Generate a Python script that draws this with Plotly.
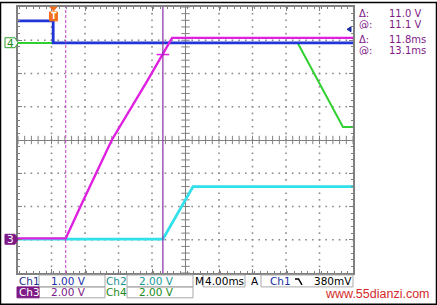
import plotly.graph_objects as go

# ---------------- data (time in ms from trigger, vertical position in screen divisions) -------------
T_START, T_END = -4.2, 35.8          # 10 div x 4.00 ms
ch1_t = [-4.2, 0.0, 0.0, 35.8]
ch1_y = [3.58, 3.58, 2.92, 2.92]
ch2_t = [-4.2, 13.1, 16.7, 35.8]
ch2_y = [-2.98, -2.98, -1.40, -1.40]
ch3_t = [-4.2, 1.5, 3.2, 7.0, 11.2, 13.1, 14.2, 35.8]
ch3_y = [-2.96, -2.96, -2.03, 0.0, 1.76, 2.57, 3.07, 3.07]
ch4_t = [-4.2, 29.2, 34.6, 35.8]
ch4_y = [2.92, 2.92, 0.39, 0.39]

cursor_dashed_t = 1.5
cursor_solid_t = 13.1
cross_t, cross_y = 13.1, 2.57

readout_labels = ["Δ:", "@:", "Δ:", "@:"]
readout_values = ["11.0 V", "11.1 V", "11.8ms", "13.1ms"]

BLUE = "#2035d8"
CYAN = "#30e0ea"
MAGENTA = "#e020e0"
GREEN = "#30d030"
PURPLE = "#7e1a86"
GRID = "#8a8a8a"
FONT = "DejaVu Sans"

# pixel -> paper helpers (plot area: x 18..353, y 5..273)
L, R, T, B = 18, 353, 5, 273
def px(x):
    return (x - L) / (R - L)
def py(y):
    return (B - y) / (B - T)

fig = go.Figure()

# dotted graticule (dots every 0.2 division along each division line)
center_t = (T_START + T_END) / 2
gx, gy = [], []
for k in range(1, 10):
    if k == 5:
        continue
    for j in range(41):
        gx.append(T_START + 4 * k)
        gy.append(-4 + 0.2 * j)
for k in range(1, 8):
    if k == 4:
        continue
    for j in range(51):
        gx.append(T_START + 0.8 * j)
        gy.append(-4 + k)
fig.add_trace(go.Scatter(x=gx, y=gy, mode="markers",
                         marker=dict(symbol="square", size=1.6, color=GRID, line=dict(width=0)),
                         hoverinfo="skip"))

# center cross tick marks
xt = [T_START + 0.8 * k for k in range(51)]
yt = [-4 + 0.2 * k for k in range(41)]
fig.add_trace(go.Scatter(x=xt, y=[0] * len(xt), mode="markers",
                         marker=dict(symbol="line-ns", size=6, line=dict(width=1, color="#808080")),
                         hoverinfo="skip"))
fig.add_trace(go.Scatter(x=[center_t] * len(yt), y=yt, mode="markers",
                         marker=dict(symbol="line-ew", size=6, line=dict(width=1, color="#808080")),
                         hoverinfo="skip"))

fig.add_trace(go.Scatter(x=ch2_t, y=ch2_y, mode="lines", line=dict(color=CYAN, width=2.8)))
fig.add_trace(go.Scatter(x=ch4_t, y=ch4_y, mode="lines", line=dict(color=GREEN, width=2)))
fig.add_trace(go.Scatter(x=ch1_t, y=ch1_y, mode="lines", line=dict(color=BLUE, width=2.8)))
fig.add_trace(go.Scatter(x=ch3_t, y=ch3_y, mode="lines", line=dict(color=MAGENTA, width=2.4)))
fig.add_trace(go.Scatter(x=[cross_t], y=[cross_y], mode="markers",
                         marker=dict(symbol="line-ew", size=9, line=dict(width=1.5, color=MAGENTA))))

shapes = []
# center cross lines
shapes.append(dict(type="line", xref="x", yref="y", x0=center_t, x1=center_t, y0=-4, y1=4,
                   line=dict(color="#808080", width=1), layer="below"))
# cursors
shapes.append(dict(type="line", xref="x", yref="y", x0=cursor_dashed_t, x1=cursor_dashed_t, y0=-4, y1=4,
                   line=dict(color="#c040c0", width=1, dash="3px,2px")))
shapes.append(dict(type="line", xref="x", yref="y", x0=cursor_solid_t, x1=cursor_solid_t, y0=-4, y1=4,
                   line=dict(color="#8a2aa8", width=1.2)))

def rect(x0, y0, x1, y1, line="#a8a8a8", fill=None, w=1):
    d = dict(type="rect", xref="paper", yref="paper", x0=px(x0), x1=px(x1), y0=py(y1), y1=py(y0),
             line=dict(color=line, width=w))
    if fill:
        d["fillcolor"] = fill
    return d

def path(points, color, fill=None, w=1):
    s = "M " + " L ".join(f"{px(a):.5f},{py(b):.5f}" for a, b in points) + (" Z" if fill else "")
    d = dict(type="path", xref="paper", yref="paper", path=s, line=dict(color=color, width=w))
    if fill:
        d["fillcolor"] = fill
    return d

# outer frame of picture
shapes.append(rect(0.5, 0.5, 436.5, 304.5, line="black", w=1.5))
# status boxes
shapes.append(rect(39, 275, 105, 287))
shapes.append(rect(127, 275, 193, 287))
shapes.append(rect(203, 275, 245, 287))
shapes.append(rect(261, 275, 353, 287))
shapes.append(rect(39, 287, 105, 298))
shapes.append(rect(127, 287, 193, 298))
shapes.append(rect(17, 287, 39, 298, line=PURPLE, fill=PURPLE))
# falling-edge trigger symbol
shapes.append(path([(295, 279), (298.5, 279), (302, 285)], "black", w=1.5))
# channel ground markers
shapes.append(path([(5, 36), (15, 36), (18, 41), (15, 46), (5, 46)], "#30a030", fill="white", w=1))
shapes.append(path([(5, 234), (15, 234), (18, 239), (15, 244), (5, 244)], PURPLE, fill=PURPLE, w=1))
# trigger position marker
shapes.append(path([(50, 5), (57, 5), (53.5, 9)], "#f07020", fill="#f07020"))
shapes.append(rect(49.5, 10, 57.5, 19, line="#f07020", fill="#f07020"))
# trigger level arrow
shapes.append(path([(347, 27.5), (351, 25), (351, 30)], "#1a2aa0", fill="#1a2aa0"))

ann = []
def text(x, y, s, color, size=10, anchor="left", family=FONT, h=10):
    ann.append(dict(xref="paper", yref="paper", x=px(x), y=py(y), text=s, showarrow=False,
                    xanchor=anchor, yanchor="middle", height=h, borderpad=0,
                    font=dict(family=family, size=size, color=color)))

text(17.5, 281.3, "Ch1", "#1c2f8f", 10.5)
text(68.5, 281.3, "1.00 V", "#2030a8", 10.5, "center")
text(105.5, 281.3, "Ch2", "#1a9090", 10.5)
text(156.5, 281.3, "2.00 V", "#1a9a9a", 10.5, "center")
text(193.5, 281.3, "M", "black", 10.5)
text(203.5, 281.3, "4.00ms", "black", 10.5)
text(255, 281.3, "A", "black", 10.5, "center")
text(269, 281.3, "Ch1", "#2030a8", 10.5)
text(353, 281, "380mV", "black", 10.5, "right")
text(18, 292.5, "Ch3", "white", 10.5)
text(68, 292.5, "2.00 V", PURPLE, 10.5, "center")
text(105.5, 292.5, "Ch4", "#1a8a1a", 10.5)
text(156.5, 292.5, "2.00 V", "#1a8a1a", 10.5, "center")
text(10.5, 41, "4", "#1a8a1a", 10.5, "center")
text(10.5, 239, "3", "white", 10.5, "center")
text(53.5, 14.5, "<b>T</b>", "white", 8, "center", h=8)
text(377, 293.5, "www.55dianzi.com", "#d42a2a", 12.5, "center", "Liberation Sans", h=11)

for i, (lab, val) in enumerate(zip(readout_labels, readout_values)):
    yy = [11.5, 22.3, 38.0, 48.8][i]
    text(357.5, yy, lab, PURPLE, 10, h=9)
    text(388, yy, val, PURPLE, 10, h=9)

axis_common = dict(showgrid=False,
                   showticklabels=False, ticks="inside", ticklen=4, tickcolor="#808080",
                   showline=True, linecolor="#808080", linewidth=1.5, mirror="ticks",
                   fixedrange=True)
fig.update_xaxes(range=[T_START, T_END], tick0=T_START, dtick=4, zeroline=False,
                 minor=dict(dtick=0.8, ticks="inside", ticklen=2.5, tickcolor="#808080", showgrid=False),
                 **axis_common)
fig.update_yaxes(range=[-4, 4], tick0=-4, dtick=1, zeroline=True, zerolinecolor="#808080", zerolinewidth=1,
                 minor=dict(dtick=0.2, ticks="inside", ticklen=2.5, tickcolor="#808080", showgrid=False),
                 **axis_common)

fig.update_layout(width=437, height=305, margin=dict(l=L, r=437 - R, t=T, b=305 - B),
                  paper_bgcolor="white", plot_bgcolor="white", showlegend=False,
                  shapes=shapes, annotations=ann)

fig.write_html("out.html")
